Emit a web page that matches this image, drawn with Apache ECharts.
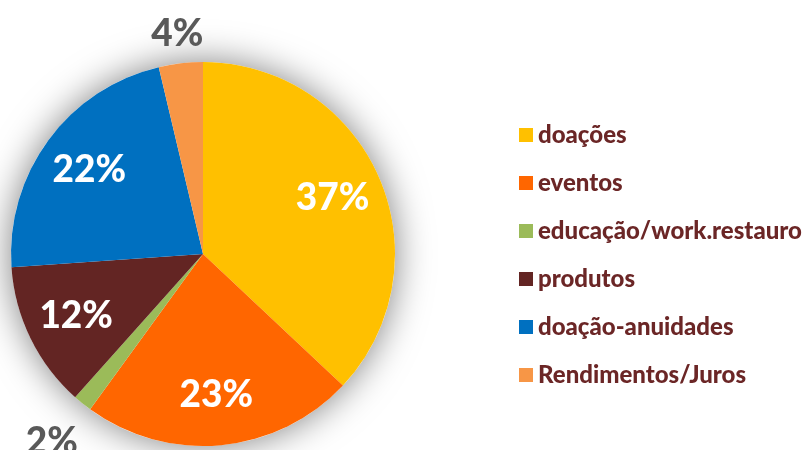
<!DOCTYPE html>
<html>
<head>
<meta charset="utf-8">
<script src="https://cdn.jsdelivr.net/npm/echarts@6/dist/echarts.min.js"></script>
<style>html,body{margin:0;padding:0;background:#fff;}#c{width:811px;height:450px;}</style>
</head>
<body>
<div id="c"></div>
<script>
const categories = ['doações', 'eventos', 'educação/work.restauro', 'produtos', 'doação-anuidades', 'Rendimentos/Juros'];
const values = [37.0, 23.0, 1.6, 12.3, 22.4, 3.7];
const colors = ['#FFC000', '#FF6600', '#9BBB59', '#632523', '#0070C0', '#F79646'];
const insideLabel = [true, true, false, true, true, false];

const FONT = 'Lato';
const CENTER = [203, 254];
const R = 192;

const chart = echarts.init(document.getElementById('c'), null, {renderer: 'canvas'});
const pct = p => Math.round(p.percent) + '%';

function labelSeries(radius, showFn, color) {
  return {
    type: 'pie', center: CENTER, radius: radius, startAngle: 90, clockwise: true,
    silent: true, z: 5, animation: false,
    itemStyle: {color: 'rgba(0,0,0,0)'},
    emphasis: {disabled: true},
    label: {position: 'inside', formatter: pct, color: color, fontFamily: FONT, fontWeight: 900, fontSize: 37},
    labelLine: {show: false},
    data: categories.map((n, i) => ({name: n, value: values[i], label: {show: showFn(i)}}))
  };
}

chart.setOption({
  animation: false,
  legend: {
    orient: 'vertical', left: 514, top: 118,
    icon: 'rect', itemWidth: 14, itemHeight: 14, itemGap: 24,
    data: categories,
    textStyle: {color: '#6B2626', fontFamily: FONT, fontWeight: 900, fontSize: 24, padding: [0, 0, 0, 0]},
    selectedMode: false
  },
  series: [
    {
      type: 'pie', center: CENTER, radius: R, silent: true, z: 1,
      label: {show: false}, labelLine: {show: false},
      data: [{name: '__bg', value: 1, itemStyle: {color: '#ffffff', shadowBlur: 36, shadowColor: 'rgba(0,0,0,0.5)'}}]
    },
    {
      type: 'pie', center: CENTER, radius: [0, R], startAngle: 90, clockwise: true, z: 2,
      label: {show: false}, labelLine: {show: false},
      emphasis: {disabled: true},
      data: categories.map((n, i) => ({name: n, value: values[i], itemStyle: {color: colors[i]}}))
    },
    labelSeries([R * 0.44, R], i => insideLabel[i], '#ffffff'),
    labelSeries([R, R + 52], i => i === 5, '#595959'),
    labelSeries([R + 20, R + 72], i => i === 2, '#595959')
  ]
});
</script>
</body>
</html>
